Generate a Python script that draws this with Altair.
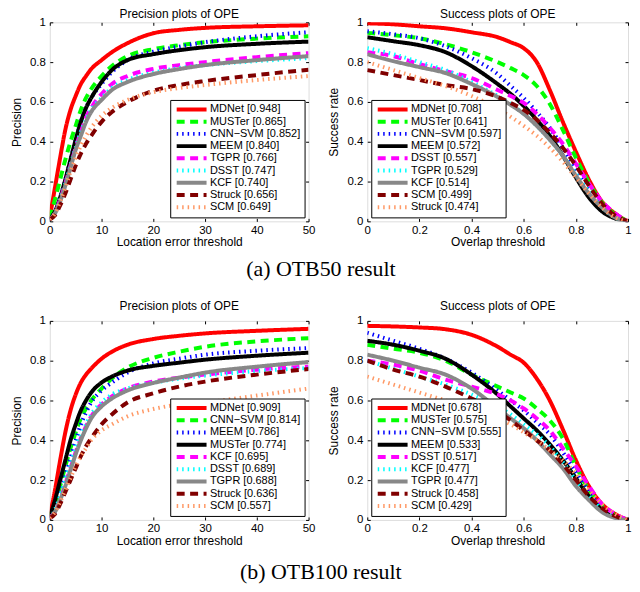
import altair as alt
import pandas as pd

FONT = "Liberation Sans"

# x grids
PREC_X = [0, 1, 2, 3, 4, 5, 6, 7, 8, 10, 12, 15, 20, 25, 30, 40, 50]
SUCC_X = [0, 0.1, 0.2, 0.3, 0.4, 0.5, 0.55, 0.6, 0.65, 0.7, 0.75, 0.8, 0.85, 0.9, 0.95, 1.0]

# ---- OTB50 precision
A_PREC_NAMES = ["MDNet [0.948]", "MUSTer [0.865]", "CNN\u2212SVM [0.852]", "MEEM [0.840]",
                "TGPR [0.766]", "DSST [0.747]", "KCF [0.740]", "Struck [0.656]", "SCM [0.649]"]
A_PREC_MDNET = [0.02, 0.17, 0.32, 0.46, 0.56, 0.63, 0.69, 0.73, 0.765, 0.81, 0.85, 0.895, 0.945, 0.962, 0.972, 0.98, 0.985]
A_PREC_MUSTER = [0.02, 0.11, 0.21, 0.31, 0.40, 0.48, 0.56, 0.62, 0.665, 0.73, 0.78, 0.83, 0.865, 0.885, 0.90, 0.918, 0.93]
A_PREC_CNNSVM = [0.01, 0.05, 0.12, 0.21, 0.31, 0.41, 0.50, 0.57, 0.62, 0.69, 0.75, 0.81, 0.852, 0.878, 0.90, 0.93, 0.95]
A_PREC_MEEM = [0.01, 0.05, 0.12, 0.21, 0.31, 0.41, 0.50, 0.57, 0.62, 0.70, 0.76, 0.81, 0.84, 0.86, 0.875, 0.892, 0.903]
A_PREC_TGPR = [0.01, 0.04, 0.11, 0.19, 0.28, 0.37, 0.45, 0.52, 0.57, 0.64, 0.69, 0.73, 0.766, 0.785, 0.80, 0.825, 0.845]
A_PREC_DSST = [0.01, 0.04, 0.11, 0.19, 0.28, 0.37, 0.45, 0.51, 0.56, 0.62, 0.67, 0.71, 0.747, 0.77, 0.785, 0.805, 0.82]
A_PREC_KCF = [0.01, 0.04, 0.10, 0.18, 0.27, 0.36, 0.43, 0.50, 0.55, 0.61, 0.66, 0.70, 0.74, 0.765, 0.785, 0.81, 0.83]
A_PREC_STRUCK = [0.01, 0.03, 0.08, 0.14, 0.21, 0.28, 0.34, 0.39, 0.43, 0.50, 0.55, 0.60, 0.656, 0.685, 0.705, 0.735, 0.762]
A_PREC_SCM = [0.01, 0.04, 0.10, 0.17, 0.25, 0.32, 0.38, 0.43, 0.47, 0.53, 0.57, 0.61, 0.649, 0.67, 0.685, 0.71, 0.73]

# ---- OTB50 success
A_SUCC_NAMES = ["MDNet [0.708]", "MUSTer [0.641]", "CNN\u2212SVM [0.597]", "MEEM [0.572]",
                "DSST [0.557]", "TGPR [0.529]", "KCF [0.514]", "SCM [0.499]", "Struck [0.474]"]
A_SUCC_MDNET = [0.995, 0.99, 0.98, 0.97, 0.95, 0.925, 0.90, 0.87, 0.80, 0.66, 0.50, 0.35, 0.21, 0.10, 0.04, 0.0]
A_SUCC_MUSTER = [0.947, 0.935, 0.92, 0.89, 0.85, 0.80, 0.77, 0.735, 0.68, 0.59, 0.46, 0.32, 0.195, 0.095, 0.035, 0.0]
A_SUCC_CNNSVM = [0.955, 0.94, 0.92, 0.88, 0.82, 0.74, 0.68, 0.62, 0.55, 0.47, 0.37, 0.26, 0.16, 0.08, 0.03, 0.0]
A_SUCC_MEEM = [0.925, 0.905, 0.885, 0.85, 0.78, 0.69, 0.64, 0.58, 0.51, 0.43, 0.33, 0.22, 0.12, 0.05, 0.015, 0.0]
A_SUCC_DSST = [0.85, 0.83, 0.79, 0.755, 0.72, 0.66, 0.63, 0.595, 0.54, 0.47, 0.39, 0.29, 0.19, 0.10, 0.04, 0.0]
A_SUCC_TGPR = [0.87, 0.84, 0.80, 0.76, 0.70, 0.63, 0.59, 0.54, 0.48, 0.41, 0.33, 0.24, 0.15, 0.07, 0.02, 0.0]
A_SUCC_KCF = [0.84, 0.805, 0.775, 0.745, 0.69, 0.625, 0.585, 0.54, 0.48, 0.41, 0.33, 0.23, 0.14, 0.07, 0.02, 0.0]
A_SUCC_SCM = [0.76, 0.735, 0.71, 0.685, 0.665, 0.625, 0.595, 0.56, 0.51, 0.445, 0.37, 0.28, 0.18, 0.09, 0.03, 0.0]
A_SUCC_STRUCK = [0.80, 0.76, 0.72, 0.68, 0.63, 0.565, 0.525, 0.48, 0.43, 0.37, 0.30, 0.22, 0.14, 0.07, 0.02, 0.0]

# ---- OTB100 precision
B_PREC_NAMES = ["MDNet [0.909]", "CNN\u2212SVM [0.814]", "MEEM [0.786]", "MUSTer [0.774]",
                "KCF [0.695]", "DSST [0.689]", "TGPR [0.688]", "Struck [0.636]", "SCM [0.557]"]
B_PREC_MDNET = [0.02, 0.15, 0.30, 0.44, 0.55, 0.63, 0.69, 0.73, 0.76, 0.81, 0.845, 0.88, 0.909, 0.925, 0.937, 0.95, 0.96]
B_PREC_CNNSVM = [0.02, 0.08, 0.17, 0.27, 0.36, 0.44, 0.51, 0.56, 0.60, 0.66, 0.71, 0.765, 0.814, 0.845, 0.87, 0.897, 0.913]
B_PREC_MEEM = [0.01, 0.05, 0.13, 0.22, 0.31, 0.40, 0.48, 0.54, 0.59, 0.65, 0.69, 0.74, 0.786, 0.81, 0.83, 0.85, 0.863]
B_PREC_MUSTER = [0.02, 0.10, 0.20, 0.30, 0.40, 0.48, 0.55, 0.60, 0.64, 0.69, 0.72, 0.75, 0.774, 0.79, 0.805, 0.825, 0.84]
B_PREC_KCF = [0.01, 0.04, 0.10, 0.18, 0.26, 0.34, 0.41, 0.47, 0.52, 0.58, 0.62, 0.66, 0.695, 0.715, 0.73, 0.755, 0.77]
B_PREC_DSST = [0.01, 0.05, 0.12, 0.20, 0.28, 0.36, 0.43, 0.48, 0.53, 0.59, 0.63, 0.66, 0.689, 0.71, 0.725, 0.748, 0.763]
B_PREC_TGPR = [0.01, 0.04, 0.10, 0.17, 0.25, 0.33, 0.40, 0.46, 0.51, 0.57, 0.61, 0.65, 0.688, 0.715, 0.74, 0.77, 0.793]
B_PREC_STRUCK = [0.01, 0.03, 0.08, 0.14, 0.20, 0.26, 0.32, 0.37, 0.41, 0.48, 0.53, 0.59, 0.636, 0.67, 0.695, 0.73, 0.758]
B_PREC_SCM = [0.01, 0.04, 0.09, 0.15, 0.21, 0.27, 0.32, 0.36, 0.40, 0.45, 0.48, 0.52, 0.557, 0.58, 0.59, 0.625, 0.66]

# ---- OTB100 success
B_SUCC_NAMES = ["MDNet [0.678]", "MUSTer [0.575]", "CNN\u2212SVM [0.555]", "MEEM [0.533]",
                "DSST [0.517]", "KCF [0.477]", "TGPR [0.477]", "Struck [0.458]", "SCM [0.429]"]
B_SUCC_MDNET = [0.975, 0.972, 0.967, 0.958, 0.93, 0.87, 0.83, 0.79, 0.71, 0.60, 0.455, 0.30, 0.17, 0.08, 0.03, 0.0]
B_SUCC_MUSTER = [0.88, 0.86, 0.84, 0.80, 0.73, 0.67, 0.64, 0.61, 0.56, 0.50, 0.41, 0.27, 0.15, 0.07, 0.025, 0.0]
B_SUCC_CNNSVM = [0.94, 0.90, 0.86, 0.81, 0.74, 0.65, 0.60, 0.55, 0.49, 0.43, 0.34, 0.24, 0.14, 0.06, 0.02, 0.0]
B_SUCC_MEEM = [0.90, 0.88, 0.85, 0.81, 0.73, 0.63, 0.57, 0.51, 0.45, 0.38, 0.30, 0.21, 0.12, 0.05, 0.015, 0.0]
B_SUCC_DSST = [0.80, 0.78, 0.75, 0.705, 0.67, 0.63, 0.60, 0.56, 0.51, 0.45, 0.36, 0.27, 0.17, 0.08, 0.03, 0.0]
B_SUCC_KCF = [0.80, 0.76, 0.72, 0.68, 0.63, 0.57, 0.53, 0.48, 0.43, 0.37, 0.29, 0.20, 0.12, 0.05, 0.015, 0.0]
B_SUCC_TGPR = [0.83, 0.80, 0.765, 0.73, 0.66, 0.56, 0.51, 0.46, 0.40, 0.33, 0.26, 0.17, 0.10, 0.04, 0.01, 0.0]
B_SUCC_STRUCK = [0.80, 0.755, 0.72, 0.67, 0.61, 0.545, 0.50, 0.45, 0.40, 0.35, 0.28, 0.20, 0.12, 0.06, 0.02, 0.0]
B_SUCC_SCM = [0.72, 0.68, 0.64, 0.60, 0.56, 0.51, 0.48, 0.44, 0.40, 0.35, 0.30, 0.23, 0.15, 0.08, 0.03, 0.0]

# styles by rank
COLORS = ["#ff0000", "#00ff00", "#0000ff", "#000000", "#ff00ff", "#00ffff", "#888888", "#800000", "#ff9966"]
DASHES = [[1, 0], [8, 5.5], [1.5, 4], [1, 0], [8, 5.5], [1.5, 4], [1, 0], [8, 5.5], [1.5, 4]]

PREC_TICKS = [0, 10, 20, 30, 40, 50]
SUCC_TICKS = [0, 0.2, 0.4, 0.6, 0.8, 1]
Y_TICKS = [0, 0.2, 0.4, 0.6, 0.8, 1]


def make_df(xs, names, series):
    rows = []
    for name, vals in zip(names, series):
        for x, v in zip(xs, vals):
            rows.append({"x": x, "y": v, "name": name})
    return pd.DataFrame(rows)


def panel(xs, names, series, title, xtitle, ytitle, xticks, xfmt, xdomain, width, legend_orient, title_offset):
    df = make_df(xs, names, series)
    legend = alt.Legend(
        title=None, orient=legend_orient, offset=4, symbolType="stroke", symbolSize=900,
        symbolStrokeWidth=4, clipHeight=11, rowPadding=0.3, labelFontSize=11, labelFont=FONT,
        labelColor="black", labelAlign="left", padding=4, symbolOffset=0.5, labelOffset=1.4,
        strokeColor="black", fillColor="white", labelLimit=400, cornerRadius=0,
    )
    xaxis = alt.Axis(
        orient="bottom", offset=-3, tickSize=3, values=xticks, format=xfmt, labelFontSize=11.5,
        labelFont=FONT, labelColor="black", labelPadding=3, domain=False, tickColor="black",
        title=xtitle, titleFontSize=12, titleFont=FONT, titleFontWeight="normal", titleColor="black",
        titlePadding=1, grid=False, labelFlush=False, minExtent=0,
    )
    yaxis = alt.Axis(
        orient="left", offset=-3, tickSize=3, values=Y_TICKS, format=".1~f", labelFontSize=11.5,
        labelFont=FONT, labelColor="black", labelPadding=4.5, domain=False, tickColor="black",
        title=ytitle, titleFontSize=12, titleFont=FONT, titleFontWeight="normal", titleColor="black",
        titlePadding=6, grid=False, labelFlush=False, minExtent=0,
    )
    xscale = alt.Scale(domain=xdomain, nice=False, zero=False)
    yscale = alt.Scale(domain=[0, 1], nice=False)
    lines = alt.Chart(df).mark_line(strokeWidth=4, interpolate="monotone", clip=True).encode(
        x=alt.X("x:Q", scale=xscale, axis=xaxis),
        y=alt.Y("y:Q", scale=yscale, axis=yaxis),
        color=alt.Color("name:N", scale=alt.Scale(domain=names, range=COLORS), legend=legend),
        strokeDash=alt.StrokeDash("name:N", scale=alt.Scale(domain=names, range=DASHES), legend=legend),
    )
    ticks = alt.Chart(df).mark_line(opacity=0, strokeWidth=0.1, clip=True).encode(
        x=alt.X("x:Q", scale=xscale, axis=alt.Axis(orient="top", offset=-3, tickSize=3, values=xticks,
                                                    labels=False, domain=False, title=None, grid=False,
                                                    tickColor="black", minExtent=0, maxExtent=0)),
        y=alt.Y("y:Q", scale=yscale, axis=alt.Axis(orient="right", offset=-3, tickSize=3, values=Y_TICKS,
                                                    labels=False, domain=False, title=None, grid=False,
                                                    tickColor="black", minExtent=0, maxExtent=0)),
        detail="name:N",
    )
    return alt.layer(lines, ticks).resolve_axis(x="independent", y="independent").properties(
        width=width, height=200,
        title=alt.TitleParams(title, fontSize=12, font=FONT, fontWeight="normal", color="black",
                              offset=title_offset, anchor="middle"),
    )


p1 = panel(PREC_X, A_PREC_NAMES,
           [A_PREC_MDNET, A_PREC_MUSTER, A_PREC_CNNSVM, A_PREC_MEEM, A_PREC_TGPR, A_PREC_DSST,
            A_PREC_KCF, A_PREC_STRUCK, A_PREC_SCM],
           "Precision plots of OPE", "Location error threshold", "Precision", PREC_TICKS, "d", [0, 50], 260,
           "bottom-right", -5)
p2 = panel(SUCC_X, A_SUCC_NAMES,
           [A_SUCC_MDNET, A_SUCC_MUSTER, A_SUCC_CNNSVM, A_SUCC_MEEM, A_SUCC_DSST, A_SUCC_TGPR,
            A_SUCC_KCF, A_SUCC_SCM, A_SUCC_STRUCK],
           "Success plots of OPE", "Overlap threshold", "Success rate", SUCC_TICKS, ".1~f", [0, 1], 262,
           "bottom-left", -5)
p3 = panel(PREC_X, B_PREC_NAMES,
           [B_PREC_MDNET, B_PREC_CNNSVM, B_PREC_MEEM, B_PREC_MUSTER, B_PREC_KCF, B_PREC_DSST,
            B_PREC_TGPR, B_PREC_STRUCK, B_PREC_SCM],
           "Precision plots of OPE", "Location error threshold", "Precision", PREC_TICKS, "d", [0, 50], 260,
           "bottom-right", 2)
p4 = panel(SUCC_X, B_SUCC_NAMES,
           [B_SUCC_MDNET, B_SUCC_MUSTER, B_SUCC_CNNSVM, B_SUCC_MEEM, B_SUCC_DSST, B_SUCC_KCF,
            B_SUCC_TGPR, B_SUCC_STRUCK, B_SUCC_SCM],
           "Success plots of OPE", "Overlap threshold", "Success rate", SUCC_TICKS, ".1~f", [0, 1], 262,
           "bottom-left", 2)


def caption(text, offset):
    return alt.TitleParams(text, orient="bottom", fontSize=22, font="Liberation Serif",
                           fontWeight="normal", color="black", offset=offset, anchor="middle")


row1 = alt.hconcat(p1, p2, spacing=12).resolve_scale(color="independent", strokeDash="independent") \
    .resolve_legend(color="independent", strokeDash="independent").properties(title=caption("(a) OTB50 result", 11))
row2 = alt.hconcat(p3, p4, spacing=12).resolve_scale(color="independent", strokeDash="independent") \
    .resolve_legend(color="independent", strokeDash="independent").properties(title=caption("(b) OTB100 result", 15))

chart = alt.vconcat(row1, row2, spacing=19).resolve_scale(
    color="independent", strokeDash="independent"
).resolve_legend(color="independent", strokeDash="independent").properties(
    padding={"left": 2, "top": -2, "right": 0, "bottom": 0}
).configure_view(stroke="black", strokeWidth=1).configure(background="white")

chart.save("out.html", embed_options={"renderer": "svg", "actions": False})
